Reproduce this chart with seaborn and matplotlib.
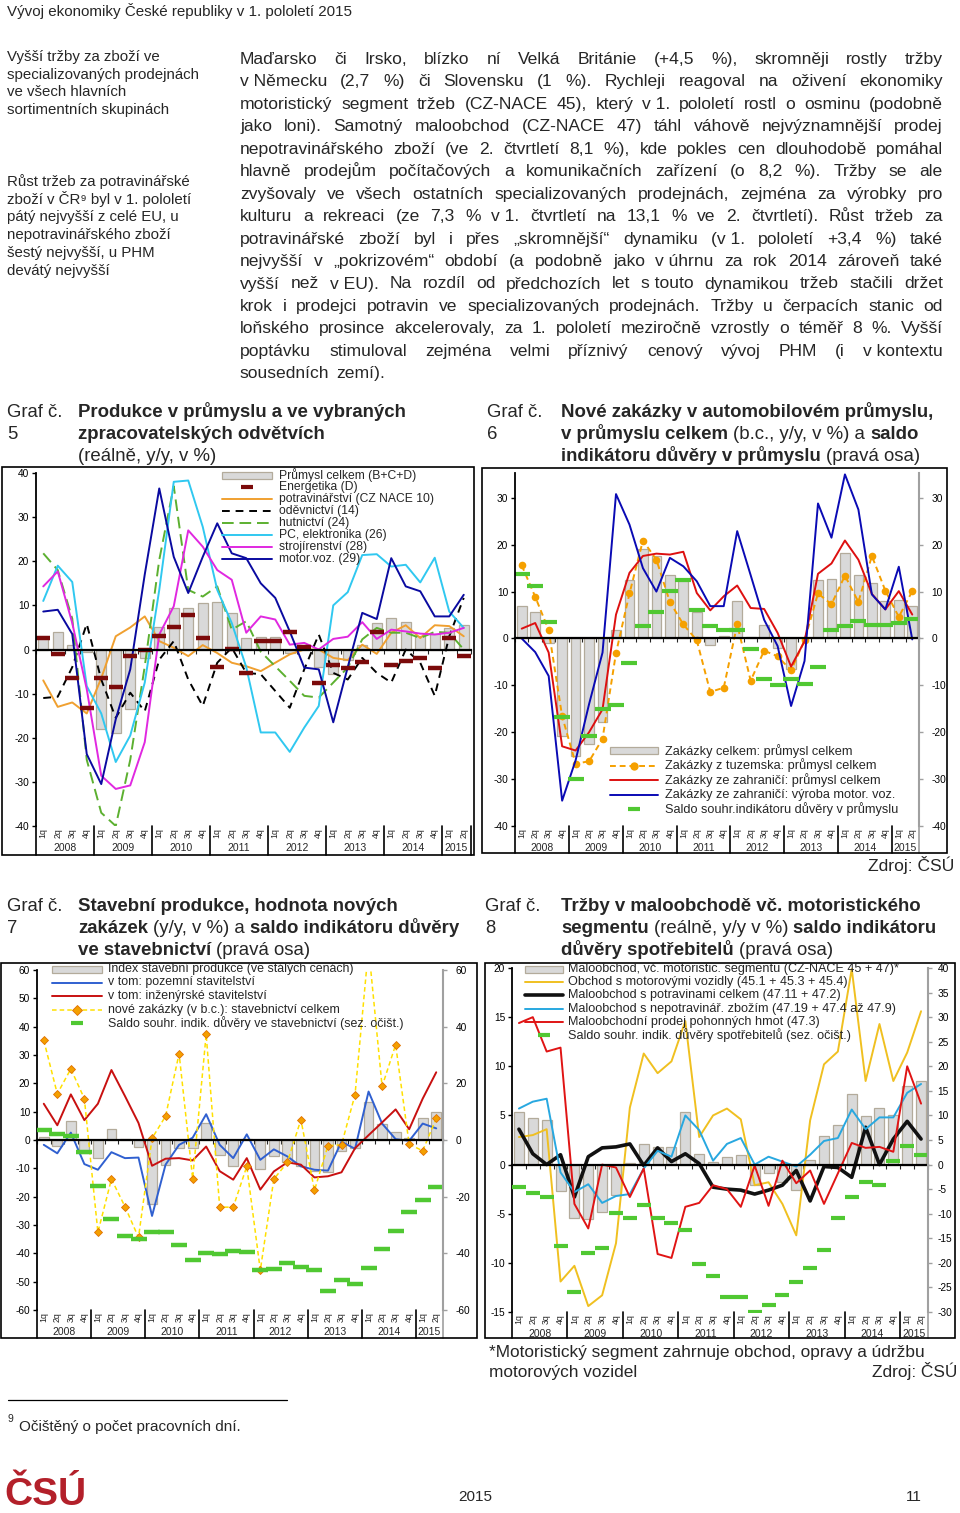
import numpy as np
import pandas as pd
import matplotlib
matplotlib.use("Agg")
import matplotlib.pyplot as plt
from matplotlib.lines import Line2D
from matplotlib.patches import Rectangle
import seaborn as sns

# ---------------- data (ctvrtleti 2008q1 .. 2015q2) ----------------
QIDX = list(range(30))
QUARTER_LABELS = ["1q", "2q", "3q", "4q"] * 7 + ["1q", "2q"]
YEARS = ["2008", "2009", "2010", "2011", "2012", "2013", "2014", "2015"]

# Graf 5 - prumysl
prumysl_celkem = [2.5, 4.0, 1.0, -0.5, -18.0, -19.0, -13.5, -2.0, 5.0, 9.5, 9.5, 10.5, 10.8, 8.3, 2.6,
                  2.9, 2.9, -0.7, 0.8, -4.0, -5.6, -2.3, 1.0, 6.0, 7.1, 6.2, 3.0, 3.4, 4.9, 5.6]
energetika = [2.5, -1.0, -6.5, -13.2, -6.5, -8.5, -1.5, 0.0, 3.0, 5.0, 7.8, 2.5, -4.0, 0.2, -5.3,
              2.0, 1.9, 3.9, 0.6, -7.7, -3.6, -4.1, -2.8, 4.0, -3.5, -2.6, -1.9, -4.1, 2.5, -1.5]
potravinarstvi = [-7.0, -13.0, -12.0, -14.5, -6.5, 3.0, 5.0, 7.5, 1.9, 0.4, -1.5, 1.0, -0.8, -3.0, -3.8,
                  -4.9, -3.0, -1.1, 0.0, 0.0, -1.9, -2.4, 1.1, -1.0, 3.8, 5.5, 2.6, 5.5, 5.3, 3.0]
odevnictvi = [-11.0, -10.7, -4.0, 5.8, -6.8, -15.5, -9.8, -14.0, -2.3, 1.9, -6.8, -12.8, -3.0, 0.4, -5.3,
              -5.6, -9.4, -13.2, -4.5, 3.4, -5.3, -6.8, -1.9, -5.3, -7.5, 0.0, -3.0, -10.5, 3.0, 11.7]
hutnictvi = [21.8, 18.0, 7.0, -25.0, -37.0, -40.0, -25.0, -3.8, 20.3, 37.0, 13.5, 12.0, 14.3, 4.5, 6.4,
             -0.5, -3.8, -7.1, -10.5, -10.9, -7.5, -4.1, 2.3, 4.9, 3.8, 3.8, 2.6, 4.0, 3.8, 0.0]
pc_elektronika = [11.0, 19.0, 15.3, -8.3, -14.5, -25.5, -19.5, -7.5, 13.5, 38.0, 38.3, 27.8, 13.5, 6.0, -4.0,
                  -18.8, -18.8, -23.2, -17.7, -12.8, 10.0, 13.0, 21.4, 21.6, 18.8, 19.2, 15.2, 20.8, 8.6, 4.9]
strojirenstvi = [14.3, 17.7, 6.0, -9.0, -28.6, -31.6, -30.8, -21.0, 3.4, 9.8, 27.0, 23.3, 18.0, 15.8, 3.8,
                 7.5, 6.8, 1.1, 1.5, 0.0, 2.4, 2.9, 6.2, 2.4, 4.5, 4.1, 3.6, 3.4, 3.8, 4.9]
motor_voz = [8.6, 9.0, 3.5, -23.7, -30.5, -15.8, -4.5, 17.0, 36.5, 21.0, 12.8, 21.0, 28.6, 21.8, 20.7,
             15.0, 11.7, 4.1, -4.1, -4.5, -16.5, -4.0, 8.3, 6.9, 20.7, 14.3, 13.2, 7.5, 7.5, 12.4]

# Graf 6 - zakazky
zakazky_celkem = [7.0, 5.6, -0.9, -20.8, -25.0, -22.6, -17.8, 1.9, 12.4, 19.0, 17.6, 13.6, 12.2, 5.7, -1.4,
                  0.6, 8.1, 0.3, 2.8, -2.0, -6.6, 0.0, 12.4, 12.7, 18.3, 13.6, 11.9, 8.0, 8.3, 6.9]
zakazky_tuzemsko = [15.6, 8.9, 1.8, -16.6, -26.7, -26.2, -21.4, -3.1, 9.6, 20.9, 16.8, 7.8, 3.0, -0.4, -11.4,
                    -10.5, 3.0, -9.0, -2.6, -3.8, -6.8, -0.4, 9.6, 7.3, 13.4, 7.8, 17.6, 10.2, 4.6, 10.1]
zakazky_zahranici = [2.1, 3.3, -3.0, -23.0, -23.9, -20.0, -15.1, 5.1, 14.0, 17.6, 18.1, 17.9, 18.5, 9.7, 6.0,
                     9.0, 11.3, 6.5, 6.3, 1.2, -6.0, -0.6, 13.8, 16.0, 20.9, 16.8, 9.5, 6.2, 10.1, 5.1]
zakazky_motor = [0.0, -2.9, -8.0, -34.6, -26.0, -14.0, -3.0, 30.8, 24.3, 15.0, 10.0, 17.2, 15.4, 12.2, 6.9,
                 6.9, 22.9, 13.5, 4.0, -1.6, -14.4, -4.8, 28.8, 21.5, 35.0, 27.5, 9.4, 6.2, 15.3, -0.2]
saldo_prumysl = [13.8, 11.2, 3.5, -16.8, -29.9, -20.7, -15.1, -14.2, -5.3, 2.6, 5.7, 10.2, 12.4, 6.0, 2.6,
                 1.9, 1.8, -2.3, -8.6, -10.0, -8.6, -9.8, -6.0, 1.9, 2.6, 3.8, 2.8, 2.8, 3.2, 4.1]

# Graf 7 - stavebnictvi
stavebni_index = [1.2, -2.1, 6.6, -4.7, -6.2, 3.8, 0.2, -2.3, -22.7, -8.7, -2.9, -2.9, 6.1, -5.2, -9.1,
                  0.3, -10.3, -5.8, -7.6, -9.3, -11.0, -11.4, -3.8, -2.9, 13.4, 5.5, 2.9, 0.8, 7.6, 9.9]
pozemni = [-1.7, -4.7, 2.6, -8.5, -10.5, -4.3, -6.4, -6.2, -26.8, -8.7, -1.7, 0.8, 9.1, -1.7, -6.4,
           2.0, -7.0, -3.3, -5.8, -9.3, -10.5, -10.8, -0.6, -3.1, 17.1, 5.8, 0.3, -0.3, 5.8, 4.1]
inzenyrske = [12.8, 5.2, 16.1, 7.0, 12.8, 24.7, 15.5, 6.0, -9.1, -6.6, -6.4, -7.2, -2.3, -11.0, -14.0,
              -6.4, -17.5, -11.1, -7.9, -8.7, -13.2, -12.8, -11.4, -2.9, 1.7, 6.2, 10.8, 3.8, 14.6, 23.9]
nove_zakazky = [35.2, 16.3, 25.1, 14.6, -32.6, -13.8, -23.5, -34.4, 0.6, 8.4, 30.5, -13.6, 37.3, -23.7, -23.7,
                -9.3, -46.0, -13.8, -7.9, 7.2, -17.8, -2.0, -1.7, 16.0, 68.0, 18.9, 33.6, -1.5, -3.8, 7.6]
saldo_stavebnictvi = [3.7, 2.0, 1.4, -4.4, -16.3, -28.0, -33.8, -35.0, -32.3, -32.6, -37.1, -42.5, -40.0, -40.4, -39.3,
                      -39.4, -46.0, -45.5, -43.4, -44.9, -46.0, -53.4, -49.5, -50.9, -45.2, -38.5, -32.0, -25.3, -21.0, -16.6]

# Graf 8 - maloobchod
maloobchod_celkem = [5.3, 4.7, 4.5, -2.7, -5.4, -5.5, -4.8, -3.1, 0.2, 2.1, 1.8, 1.8, 5.3, 1.1, 0.3,
                     0.8, 1.0, -2.1, -0.9, -1.8, -2.6, 0.5, 2.9, 4.0, 7.2, 4.9, 5.8, 5.0, 8.0, 8.5]
motorova_vozidla = [2.8, 3.0, 3.6, -11.9, -10.3, -14.4, -13.3, -8.0, 5.8, 11.3, 9.3, 10.5, 14.6, 2.8, 5.0,
                    5.7, 4.6, -2.1, -1.8, -4.0, -7.2, 4.5, 10.2, 11.5, 19.9, 8.5, 14.3, 8.5, 11.4, 15.6]
potraviny = [3.6, 1.1, 0.0, 1.0, -3.3, 0.8, 1.7, 1.8, 2.1, -0.1, 1.7, 0.3, 1.1, 0.1, -2.3,
             -2.5, -2.6, -3.0, -2.6, -2.1, -0.6, -3.7, -0.2, -0.3, -1.3, 3.8, 0.0, 2.6, 4.4, 2.6]
nepotraviny = [5.7, 6.4, 6.7, -0.8, -2.8, -2.0, -3.9, -3.2, -3.0, -0.4, 1.4, 0.8, 5.0, 3.5, 0.4,
               2.1, 2.7, 0.0, 0.8, 0.3, -0.2, 1.0, 2.4, 2.7, 5.6, 3.6, 4.8, 4.8, 7.3, 8.2]
pohonne_hmoty = [14.4, 15.0, 11.5, 11.9, -4.0, -6.5, 0.0, -0.3, -3.3, -0.4, -9.1, -9.5, -4.3, -3.9, -2.1,
                 -2.5, -4.3, -0.1, -4.2, 0.4, -1.9, -0.6, -4.0, -0.9, 2.2, 1.7, 1.8, 1.3, 10.0, 6.2]
saldo_spotrebitele = [-4.6, -5.7, -6.7, -16.6, -25.9, -17.9, -16.9, -9.8, -10.9, -8.3, -10.8, -11.9, -13.4, -20.3, -22.6,
                      -26.9, -26.9, -30.0, -28.6, -26.6, -23.8, -21.1, -17.4, -10.8, -6.6, -3.5, -4.1, 0.7, 3.7, 1.9]

# ---------------- page setup ----------------
sns.set_theme(style="white")
plt.rcParams["font.family"] = ["Liberation Sans", "DejaVu Sans"]
plt.rcParams["axes.unicode_minus"] = False

W, H = 960, 1513
fig = plt.figure(figsize=(W / 100, H / 100), dpi=100)
fig.patch.set_facecolor("white")
renderer = fig.canvas.get_renderer()

BAR_FACE = "#d9d9d9"
BAR_EDGE = "#b3ab9b"
GREEN = "#50c832"
LW = 1.4


def ptext(x, y, s, **kw):
    return fig.text(x / W, 1 - y / H, s, **kw)


def text_width(s, size, weight="normal"):
    t = fig.text(0, 0, s, fontsize=size, fontweight=weight)
    w = t.get_window_extent(renderer).width
    t.remove()
    return w


def justified(lines, x0, x1, y0, step, size):
    space = text_width("a a", size) - text_width("aa", size)
    for k, line in enumerate(lines):
        y = y0 + k * step
        words = line.split(" ")
        items = [ptext(0, y, w, fontsize=size, va="baseline") for w in words]
        widths = [t.get_window_extent(renderer).width for t in items]
        if k == len(lines) - 1 or len(words) == 1:
            gap = space * 1.3
        else:
            gap = (x1 - x0 - sum(widths)) / (len(words) - 1)
        x = x0
        for t, w in zip(items, widths):
            t.set_x(x / W)
            x += w + gap


def runs(x, y, parts, size):
    space = text_width("a a", size) - text_width("aa", size)
    for s, bold in parts:
        t = ptext(x, y, s, fontsize=size, fontweight="bold" if bold else "normal", va="baseline")
        x += t.get_window_extent(renderer).width + space


def frame(l, t, r, b):
    fig.add_artist(Rectangle((l / W, 1 - b / H), (r - l) / W, (b - t) / H, transform=fig.transFigure,
                             fill=False, ec="black", lw=1.2))


def legend_rows(items, hx0, hx1, tx, y0, step, size):
    # items: (label, bar?, line style dict or None, marker style dict or None)
    for k, (label, is_bar, lstyle, mstyle) in enumerate(items):
        yp = y0 + k * step
        y = 1 - yp / H
        if is_bar:
            fig.add_artist(Rectangle((hx0 / W, y - 3.5 / H), (hx1 - hx0) / W, 7 / H, transform=fig.transFigure,
                                     fc=BAR_FACE, ec=BAR_EDGE, lw=0.9))
        if lstyle:
            fig.add_artist(Line2D([hx0 / W, hx1 / W], [y, y], transform=fig.transFigure, **lstyle))
        if mstyle:
            fig.add_artist(Line2D([(hx0 + hx1) / 2 / W], [y], transform=fig.transFigure, ls="none", **mstyle))
        ptext(tx, yp, label, fontsize=size, va="center")


def new_axes(l, t, r, b):
    return fig.add_axes([l / W, 1 - b / H, (r - l) / W, (b - t) / H])


def style_axes(ax, ylim, yticks):
    ax.set_xlim(-0.5, 29.5)
    ax.set_ylim(*ylim)
    ax.set_yticks(yticks)
    ax.set_yticklabels([f"{v:g}" for v in yticks])
    ax.set_xticks(np.arange(-0.5, 30, 1))
    ax.set_xticklabels([])
    ax.tick_params(axis="y", left=True, labelsize=7.3, length=3, width=1, direction="out", pad=2, colors="black")
    ax.tick_params(axis="x", bottom=True, length=3, width=0.8, direction="out")
    ax.spines["bottom"].set_position(("data", 0))
    ax.spines["bottom"].set_color("black")
    ax.spines["bottom"].set_linewidth(1.6)
    ax.spines["left"].set_color("black")
    ax.spines["left"].set_linewidth(1.3)
    ax.spines["top"].set_visible(False)
    ax.spines["right"].set_visible(False)
    ax.set_xlabel("")
    ax.set_ylabel("")
    ax.patch.set_alpha(0)


def right_axis(ax, ylim, yticks, pad=6):
    tw = ax.twinx()
    tw.set_ylim(*ylim)
    tw.set_yticks(yticks)
    tw.set_yticklabels([f"{v:g}" for v in yticks])
    tw.tick_params(axis="y", right=True, labelsize=7.3, length=3, width=1, direction="out", pad=pad,
                   color="#a0a0a0", labelcolor="black")
    for s in ["top", "left", "bottom"]:
        tw.spines[s].set_visible(False)
    tw.spines["right"].set_color("#a0a0a0")
    tw.spines["right"].set_linewidth(1.5)
    tw.set_ylabel("")
    return tw


def category_axis(ax, top_px, bottom_px, frame_bottom_px, right_gray=False):
    h = bottom_px - top_px
    tr = ax.get_xaxis_transform()
    for i, lab in zip(QIDX, QUARTER_LABELS):
        ax.text(i, -2 / h, lab, transform=tr, rotation=90, ha="center", va="top", fontsize=6.3)
    for k, yr in enumerate(YEARS):
        idx = [i for i in QIDX if i // 4 == k]
        ax.text(np.mean(idx), -22 / h, yr, transform=tr, ha="center", va="center", fontsize=7.5)
    low = -(frame_bottom_px - bottom_px) / h
    for b in list(np.arange(-0.5, 29, 4)) + [29.5]:
        col = "#a0a0a0" if (right_gray and b == 29.5) else "black"
        ax.plot([b, b], [0, low], transform=tr, color=col, lw=1.2, clip_on=False)


def bars(ax, values, width=0.7):
    sns.barplot(x=QIDX, y=values, ax=ax, color=BAR_FACE, edgecolor=BAR_EDGE, linewidth=0.9,
                width=width, saturation=1, errorbar=None)


def line(ax, values, color, lw=LW, ls="-", **kw):
    sns.lineplot(x=QIDX, y=values, ax=ax, color=color, lw=lw, linestyle=ls, errorbar=None, **kw)


def dashes(ax, values, color, ms=11, mew=3):
    sns.lineplot(x=QIDX, y=values, ax=ax, color=color, linestyle="none", marker="_",
                 markersize=ms, markeredgewidth=mew, markeredgecolor=color, errorbar=None)


# ---------------- page text ----------------
ptext(7, 16, "Vývoj ekonomiky České republiky v 1. pololetí 2015", fontsize=10.9, va="baseline")

side1 = ["Vyšší tržby za zboží ve", "specializovaných prodejnách", "ve všech hlavních", "sortimentních skupinách"]
side2 = ["Růst tržeb za potravinářské", "zboží v ČR⁹ byl v 1. pololetí", "pátý nejvyšší z celé EU, u",
         "nepotravinářského zboží", "šestý nejvyšší, u PHM", "devátý nejvyšší"]
for k, s in enumerate(side1):
    ptext(7, 61 + k * 17.7, s, fontsize=10.8, va="baseline")
for k, s in enumerate(side2):
    ptext(7, 186 + k * 17.7, s, fontsize=10.8, va="baseline")

body = [
    "Maďarsko či Irsko, blízko ní Velká Británie (+4,5 %), skromněji rostly tržby",
    "v\u00a0Německu (2,7 %) či Slovensku (1 %). Rychleji reagoval na oživení ekonomiky",
    "motoristický segment tržeb (CZ-NACE 45), který v\u00a01. pololetí rostl o osminu (podobně",
    "jako loni). Samotný maloobchod (CZ-NACE 47) táhl váhově nejvýznamnější prodej",
    "nepotravinářského zboží (ve 2. čtvrtletí 8,1 %), kde pokles cen dlouhodobě pomáhal",
    "hlavně prodejům počítačových a komunikačních zařízení (o 8,2 %). Tržby se ale",
    "zvyšovaly ve všech ostatních specializovaných prodejnách, zejména za výrobky pro",
    "kulturu a rekreaci (ze 7,3 % v\u00a01. čtvrtletí na 13,1 % ve 2. čtvrtletí). Růst tržeb za",
    "potravinářské zboží byl i přes „skromnější“ dynamiku (v\u00a01. pololetí +3,4 %) také",
    "nejvyšší v „pokrizovém“ období (a podobně jako v\u00a0úhrnu za rok 2014 zároveň také",
    "vyšší než v\u00a0EU). Na rozdíl od předchozích let s\u00a0touto dynamikou tržeb stačili držet",
    "krok i prodejci potravin ve specializovaných prodejnách. Tržby u čerpacích stanic od",
    "loňského prosince akcelerovaly, za 1. pololetí meziročně vzrostly o téměř 8 %. Vyšší",
    "poptávku stimuloval zejména velmi příznivý cenový vývoj PHM (i v\u00a0kontextu",
    "sousedních zemí).",
]
justified(body, 240, 943, 64, 22.45, 12.6)

# chart titles
for x, y, num in [(7, 417, "5"), (487, 417, "6"), (7, 911, "7"), (485, 911, "8")]:
    ptext(x, y, "Graf č.", fontsize=13.3, va="baseline")
    ptext(x, y + 22, num, fontsize=13.3, va="baseline")

TS = 13.4
runs(78, 417, [("Produkce v průmyslu a ve vybraných", True)], TS)
runs(78, 439, [("zpracovatelských odvětvích", True)], TS)
runs(78, 461, [("(reálně, y/y, v %)", False)], TS)

runs(561, 417, [("Nové zakázky v automobilovém průmyslu,", True)], TS)
runs(561, 439, [("v průmyslu celkem", True), ("(b.c., y/y, v %) a", False), ("saldo", True)], TS)
runs(561, 461, [("indikátoru důvěry v průmyslu", True), ("(pravá osa)", False)], TS)

runs(78, 911, [("Stavební produkce, hodnota nových", True)], TS)
runs(78, 933, [("zakázek", True), ("(y/y, v %) a", False), ("saldo indikátoru důvěry", True)], TS)
runs(78, 955, [("ve stavebnictví", True), ("(pravá osa)", False)], TS)

runs(561, 911, [("Tržby v maloobchodě vč. motoristického", True)], TS)
runs(561, 933, [("segmentu", True), ("(reálně, y/y v %)", False), ("saldo indikátoru", True)], TS)
runs(561, 955, [("důvěry spotřebitelů", True), ("(pravá osa)", False)], TS)

# ---------------- Graf 5 ----------------
frame(2, 467, 474, 855)
ax5 = new_axes(36, 473, 471, 826)
bars(ax5, prumysl_celkem, 0.68)
line(ax5, potravinarstvi, "#f0a030")
line(ax5, odevnictvi, "black", ls=(0, (4, 3)))
line(ax5, hutnictvi, "#5cb030", ls=(0, (6, 3)))
line(ax5, pc_elektronika, "#30c8f0")
line(ax5, strojirenstvi, "#e028e0")
line(ax5, motor_voz, "#0a0aa0")
dashes(ax5, energetika, "#7b0a0a", ms=9.5, mew=3.2)
style_axes(ax5, (-40, 40), list(range(-40, 41, 10)))
category_axis(ax5, 473, 826, 855)
legend_rows([
    ("Průmysl celkem (B+C+D)", True, None, None),
    ("Energetika (D)", False, None, dict(color="#7b0a0a", marker="_", ms=8, mew=3)),
    ("potravinářství (CZ NACE 10)", False, dict(color="#f0a030", lw=LW), None),
    ("oděvnictví (14)", False, dict(color="black", lw=LW, ls=(0, (4, 3))), None),
    ("hutnictví (24)", False, dict(color="#5cb030", lw=LW, ls=(0, (6, 3))), None),
    ("PC, elektronika (26)", False, dict(color="#30c8f0", lw=LW), None),
    ("strojírenství (28)", False, dict(color="#e028e0", lw=LW), None),
    ("motor.voz. (29)", False, dict(color="#0a0aa0", lw=LW), None),
], 222, 272, 279, 475, 12, 8.7)

# ---------------- Graf 6 ----------------
frame(482, 468, 947, 853)
ax6 = new_axes(515, 473, 919, 826)
bars(ax6, zakazky_celkem, 0.72)
line(ax6, zakazky_tuzemsko, "#f5a000", ls=(0, (3, 2)), marker="o", markersize=5.5, markeredgewidth=0)
line(ax6, zakazky_zahranici, "#dd1010")
line(ax6, zakazky_motor, "#0a0ab4")
dashes(ax6, saldo_prumysl, GREEN, ms=11, mew=3)
style_axes(ax6, (-40, 35.3), list(range(-40, 31, 10)))
right_axis(ax6, (-40, 35.3), list(range(-40, 31, 10)))
category_axis(ax6, 473, 826, 853, right_gray=True)
legend_rows([
    ("Zakázky celkem: průmysl celkem", True, None, None),
    ("Zakázky z tuzemska: průmysl celkem", False, dict(color="#f5a000", lw=LW, ls=(0, (3, 2))),
     dict(color="#f5a000", marker="o", ms=6, mew=0)),
    ("Zakázky ze zahraničí: průmysl celkem", False, dict(color="#dd1010", lw=LW), None),
    ("Zakázky ze zahraničí: výroba motor. voz.", False, dict(color="#0a0ab4", lw=LW), None),
    ("Saldo souhr.indikátoru důvěry v průmyslu", False, None, dict(color=GREEN, marker="_", ms=8, mew=3)),
], 610, 658, 665, 751, 14.5, 9.2)
ptext(868, 871, "Zdroj: ČSÚ", fontsize=12.6, va="baseline")

# ---------------- Graf 7 ----------------
frame(1, 963, 477, 1338)
ax7 = new_axes(37, 970, 443, 1310)
bars(ax7, stavebni_index, 0.72)
line(ax7, pozemni, "#3060d0")
line(ax7, inzenyrske, "#c81010")
line(ax7, nove_zakazky, "#ffe000", lw=1.1, ls=(0, (3, 2)), marker="D", markersize=4.4,
     markerfacecolor="#f4a000", markeredgecolor="#e07000", markeredgewidth=0.6)
style_axes(ax7, (-60, 60), list(range(-60, 61, 10)))
tw7 = right_axis(ax7, (-60, 60), list(range(-60, 61, 20)))
dashes(tw7, saldo_stavebnictvi, GREEN, ms=11, mew=3.2)
tw7.set_ylim(-60, 60)
tw7.set_ylabel("")
category_axis(ax7, 970, 1310, 1338, right_gray=True)
legend_rows([
    ("Index stavební produkce (ve stálých cenách)", True, None, None),
    ("v tom: pozemní stavitelství", False, dict(color="#3060d0", lw=LW), None),
    ("v tom: inženýrské stavitelství", False, dict(color="#c81010", lw=LW), None),
    ("nové zakázky (v b.c.): stavebnictví celkem", False, dict(color="#ffe000", lw=1.1, ls=(0, (3, 2))),
     dict(marker="D", ms=5, mfc="#f4a000", mec="#e07000", mew=0.6)),
    ("Saldo souhr. indik. důvěry ve stavebnictví (sez. očišt.)", False, None,
     dict(color=GREEN, marker="_", ms=8, mew=3)),
], 52, 102, 108, 969, 13.5, 8.9)

# ---------------- Graf 8 ----------------
frame(485, 963, 955, 1338)
ax8 = new_axes(512, 968, 928, 1312)
bars(ax8, maloobchod_celkem, 0.72)
line(ax8, motorova_vozidla, "#f0c020")
line(ax8, potraviny, "#111111", lw=2.6)
line(ax8, nepotraviny, "#28a8e0")
line(ax8, pohonne_hmoty, "#e01414")
style_axes(ax8, (-15, 20), list(range(-15, 21, 5)))
tw8 = right_axis(ax8, (-30, 40), list(range(-30, 41, 5)), pad=4)
dashes(tw8, saldo_spotrebitele, GREEN, ms=10.5, mew=3)
tw8.set_ylim(-30, 40)
tw8.set_ylabel("")
category_axis(ax8, 968, 1312, 1338, right_gray=True)
legend_rows([
    ("Maloobchod, vč. motoristic. segmentu (CZ-NACE 45 + 47)*", True, None, None),
    ("Obchod s motorovými vozidly (45.1 + 45.3 + 45.4)", False, dict(color="#f0c020", lw=LW), None),
    ("Maloobchod s potravinami celkem (47.11 + 47.2)", False, dict(color="#111111", lw=2.6), None),
    ("Maloobchod s nepotravinář. zbožím (47.19 + 47.4 až 47.9)", False, dict(color="#28a8e0", lw=LW), None),
    ("Maloobchodní prodej pohonných hmot (47.3)", False, dict(color="#e01414", lw=LW), None),
    ("Saldo souhr. indik. důvěry spotřebitelů (sez. očišt.)", False, None,
     dict(color=GREEN, marker="_", ms=8, mew=3)),
], 525, 563, 568, 969, 13.2, 9.1)
ptext(489, 1357, "*Motoristický segment zahrnuje obchod, opravy a údržbu", fontsize=12.4, va="baseline")
ptext(489, 1377, "motorových vozidel", fontsize=12.4, va="baseline")
ptext(872, 1377, "Zdroj: ČSÚ", fontsize=12.4, va="baseline")

# ---------------- footer ----------------
fig.add_artist(Line2D([8 / W, 287 / W], [1 - 1400 / H, 1 - 1400 / H], transform=fig.transFigure,
                      color="black", lw=0.9))
ptext(8, 1422, "9", fontsize=7.5, va="baseline")
ptext(19, 1431, "Očištěný o počet pracovních dní.", fontsize=11, va="baseline")
ptext(4, 1505, "ČSÚ", fontsize=28, fontweight="bold", color="#b3202a", va="baseline",
      family=["Liberation Sans Narrow", "Liberation Sans", "DejaVu Sans"])
ptext(458, 1501, "2015", fontsize=11, va="baseline")
ptext(906, 1501, "11", fontsize=11, va="baseline")

fig.savefig("out.png", dpi=100, facecolor="white")
